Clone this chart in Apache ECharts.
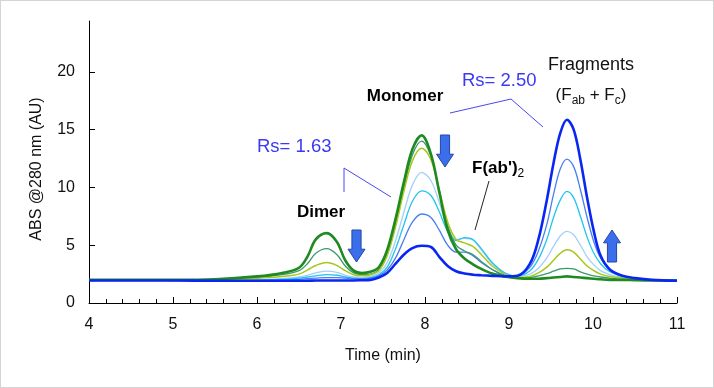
<!DOCTYPE html>
<html>
<head>
<meta charset="utf-8">
<script src="https://cdn.jsdelivr.net/npm/echarts@6/dist/echarts.min.js"></script>
<style>
html,body{margin:0;padding:0;background:#fff;}
#wrap{position:relative;width:714px;height:388px;}
#chart{width:714px;height:388px;}
#frame{position:absolute;left:0;top:0;width:714px;height:388px;box-sizing:border-box;border:1px solid #d4d4d4;pointer-events:none;}
</style>
</head>
<body>
<div id="wrap"><div id="chart"></div><div id="frame"></div></div>
<script>
// Retention time (min)
const times = [4.0, 5.0, 5.5, 6.0, 6.3, 6.5, 6.6, 6.7, 6.83, 6.95, 7.05, 7.15, 7.25, 7.35, 7.45, 7.55, 7.65, 7.75, 7.85, 7.96,
  8.07, 8.17, 8.27, 8.37, 8.47, 8.57, 8.67, 8.8, 8.95, 9.1, 9.25, 9.35, 9.45, 9.53, 9.61, 9.69, 9.77, 9.85, 9.93, 10.01,
  10.09, 10.2, 10.35, 10.5, 10.7, 11.0];
// Absorbance traces (AU)
const darkGreen = [2.0, 2.0, 2.05, 2.3, 2.6, 3.05, 4.0, 5.5, 6.05, 5.3, 3.7, 2.8, 2.6, 2.7, 3.1, 4.6, 7.3, 10.5, 13.3, 14.5,
  12.9, 9.6, 6.3, 4.65, 3.85, 3.35, 2.95, 2.55, 2.3, 2.15, 2.1, 2.1, 2.15, 2.2, 2.25, 2.3, 2.25, 2.2, 2.15, 2.1,
  2.05, 2.0, 2.0, 1.97, 1.95, 1.95];
const tealGreen = [2.0, 2.0, 2.0, 2.2, 2.45, 2.8, 3.4, 4.3, 4.7, 4.2, 3.2, 2.6, 2.45, 2.5, 2.9, 4.3, 6.9, 10.0, 12.8, 14.0,
  12.7, 9.7, 6.7, 5.0, 4.5, 4.2, 3.6, 2.9, 2.4, 2.2, 2.2, 2.35, 2.55, 2.75, 2.95, 3.0, 2.95, 2.7, 2.5, 2.35,
  2.25, 2.15, 2.05, 2.0, 1.95, 1.95];
const yellowGreen = [2.0, 2.0, 2.0, 2.15, 2.3, 2.5, 2.85, 3.25, 3.5, 3.25, 2.8, 2.45, 2.35, 2.45, 2.8, 4.1, 6.6, 9.7, 12.3, 13.4,
  12.4, 9.8, 7.0, 5.5, 5.2, 4.9, 4.2, 3.2, 2.5, 2.2, 2.3, 2.6, 3.1, 3.7, 4.3, 4.6, 4.4, 3.8, 3.2, 2.8,
  2.5, 2.3, 2.15, 2.05, 2.0, 1.95];
const lightBlue = [1.95, 1.95, 1.95, 2.0, 2.1, 2.25, 2.4, 2.6, 2.75, 2.65, 2.4, 2.25, 2.2, 2.3, 2.6, 3.5, 5.4, 7.9, 10.2, 11.3,
  10.6, 8.7, 6.5, 5.5, 5.6, 5.45, 4.6, 3.4, 2.6, 2.3, 2.5, 3.0, 3.9, 4.9, 5.8, 6.2, 5.9, 5.0, 4.0, 3.3,
  2.8, 2.45, 2.2, 2.05, 2.0, 1.95];
const cyan = [1.95, 1.95, 1.95, 1.97, 2.05, 2.15, 2.25, 2.35, 2.45, 2.4, 2.25, 2.15, 2.1, 2.2, 2.45, 3.1, 4.7, 6.8, 8.8, 9.7,
  9.3, 7.9, 6.2, 5.4, 5.65, 5.5, 4.7, 3.5, 2.6, 2.35, 2.8, 3.8, 5.5, 7.4, 8.9, 9.65, 9.1, 7.5, 5.7, 4.3,
  3.4, 2.7, 2.3, 2.1, 2.0, 1.95];
const midBlue = [1.95, 1.95, 1.95, 1.95, 2.0, 2.05, 2.1, 2.15, 2.2, 2.2, 2.15, 2.1, 2.1, 2.15, 2.35, 2.85, 3.9, 5.5, 7.0, 7.7,
  7.4, 6.3, 5.0, 4.4, 4.4, 4.1, 3.5, 2.9, 2.4, 2.35, 3.1, 4.5, 6.8, 9.4, 11.6, 12.45, 11.8, 9.8, 7.4, 5.3,
  3.9, 2.9, 2.35, 2.1, 2.0, 1.95];
const boldBlue = [1.95, 1.95, 1.93, 1.93, 1.93, 1.93, 1.93, 1.95, 1.95, 1.95, 1.95, 1.95, 1.97, 2.0, 2.2, 2.6, 3.4, 4.2, 4.75, 4.95,
  4.85, 4.0, 3.2, 2.75, 2.55, 2.45, 2.4, 2.35, 2.3, 2.35, 3.4, 5.5, 8.9, 12.1, 14.7, 15.85, 15.0, 12.4, 9.1, 6.2,
  4.1, 2.9, 2.35, 2.15, 2.0, 1.93];
// Axis ticks
const yTickValues = [0, 5, 10, 15, 20];

const traces = [
  {name: 'lightBlue', data: lightBlue, color: '#a3cffa', width: 1.3},
  {name: 'cyan', data: cyan, color: '#22c4ee', width: 1.3},
  {name: 'midBlue', data: midBlue, color: '#4a7ef0', width: 1.3},
  {name: 'tealGreen', data: tealGreen, color: '#3a9a6c', width: 1.3},
  {name: 'yellowGreen', data: yellowGreen, color: '#a6c81c', width: 1.5},
  {name: 'darkGreen', data: darkGreen, color: '#1f8a22', width: 2.6},
  {name: 'boldBlue', data: boldBlue, color: '#0a26f2', width: 2.6}
];

const FONT = 'Liberation Sans, Arial, sans-serif';
const chart = echarts.init(document.getElementById('chart'), null, {renderer: 'canvas'});

function arrow(cx, top, h, w, up) {
  const sw = w * 0.27, hh = h * 0.4;
  let pts;
  if (!up) {
    pts = [[cx - sw, top], [cx + sw, top], [cx + sw, top + h - hh], [cx + w / 2, top + h - hh], [cx, top + h],
      [cx - w / 2, top + h - hh], [cx - sw, top + h - hh]];
  } else {
    const b = top + h;
    pts = [[cx - sw, b], [cx + sw, b], [cx + sw, top + hh], [cx + w / 2, top + hh], [cx, top],
      [cx - w / 2, top + hh], [cx - sw, top + hh]];
  }
  return {type: 'polygon', shape: {points: pts}, style: {fill: '#3b6eea', stroke: '#2546a8', lineWidth: 1}, z: 100};
}

const option = {
  animation: false,
  backgroundColor: '#fff',
  grid: {left: 89, right: 37, top: 21, bottom: 85},
  xAxis: {
    type: 'value', min: 4, max: 11, interval: 1,
    axisLine: {show: true, lineStyle: {color: '#000', width: 1}},
    axisTick: {show: true, inside: true, length: 6, lineStyle: {color: '#000'}},
    minorTick: {show: true, splitNumber: 5, length: 4, lineStyle: {color: '#000'}},
    splitLine: {show: false},
    axisLabel: {margin: 14, color: '#111', fontSize: 16, fontFamily: FONT},
    name: 'Time (min)', nameLocation: 'middle', nameGap: 45,
    nameTextStyle: {color: '#111', fontSize: 16, fontFamily: FONT}
  },
  yAxis: {
    type: 'value', min: 0, max: 24.4, interval: 5,
    axisLine: {show: true, lineStyle: {color: '#000', width: 1}},
    axisTick: {show: true, inside: true, length: 6, customValues: yTickValues, lineStyle: {color: '#000'}},
    splitLine: {show: false},
    axisLabel: {margin: 14, color: '#111', fontSize: 16, fontFamily: FONT, customValues: yTickValues},
    name: 'ABS @280 nm (AU)', nameLocation: 'middle', nameGap: 44,
    nameTextStyle: {color: '#111', fontSize: 16, fontFamily: FONT, padding: [0, 14, 0, 0]}
  },
  series: traces.map(t => ({
    type: 'line', name: t.name, showSymbol: false, symbol: 'none', smooth: 0.35,
    data: times.map((x, i) => [x, t.data[i]]),
    lineStyle: {color: t.color, width: t.width}, itemStyle: {color: t.color},
    emphasis: {disabled: true}
  })),
  graphic: [
    {type: 'text', x: 257, y: 147, style: {text: 'Rs= 1.63', fill: '#3a3af5', fontSize: 18.5, fontFamily: FONT, verticalAlign: 'middle'}},
    {type: 'polyline', shape: {points: [[344, 192], [344, 168], [391, 197]]}, style: {stroke: '#4848f0', lineWidth: 1, fill: null}},
    {type: 'text', x: 462, y: 81, style: {text: 'Rs= 2.50', fill: '#3a3af5', fontSize: 18.5, fontFamily: FONT, verticalAlign: 'middle'}},
    {type: 'polyline', shape: {points: [[450, 113], [511, 99], [543, 127]]}, style: {stroke: '#4848f0', lineWidth: 1, fill: null}},
    {type: 'text', x: 405, y: 96, style: {text: 'Monomer', fill: '#000', fontSize: 17, fontWeight: 'bold', fontFamily: FONT, align: 'center', verticalAlign: 'middle'}},
    {type: 'text', x: 321, y: 212, style: {text: 'Dimer', fill: '#000', fontSize: 17, fontWeight: 'bold', fontFamily: FONT, align: 'center', verticalAlign: 'middle'}},
    {type: 'text', x: 472, y: 168, style: {
      text: '{a|F(ab\')}{s|2}', fontFamily: FONT, verticalAlign: 'middle',
      rich: {a: {fontSize: 17, fontWeight: 'bold', fill: '#000', lineHeight: 24, fontFamily: FONT},
        s: {fontSize: 12, fill: '#000', lineHeight: 24, verticalAlign: 'bottom', fontFamily: FONT}}}},
    {type: 'polyline', shape: {points: [[489, 181], [475, 230]]}, style: {stroke: '#222', lineWidth: 1, fill: null}},
    {type: 'text', x: 591, y: 65, style: {text: 'Fragments', fill: '#111', fontSize: 18, fontFamily: FONT, align: 'center', verticalAlign: 'middle'}},
    {type: 'text', x: 591, y: 95, style: {
      text: '{a|(F}{s|ab}{a| + F}{s|c}{a|)}', fontFamily: FONT, align: 'center', verticalAlign: 'middle',
      rich: {a: {fontSize: 17, fill: '#111', lineHeight: 24, fontFamily: FONT},
        s: {fontSize: 12, fill: '#111', lineHeight: 24, verticalAlign: 'bottom', fontFamily: FONT}}}},
    arrow(356.5, 230, 32, 17, false),
    arrow(445, 135, 32, 17, false),
    arrow(612, 230, 32, 17, true)
  ]
};
chart.setOption(option);
</script>
</body>
</html>
